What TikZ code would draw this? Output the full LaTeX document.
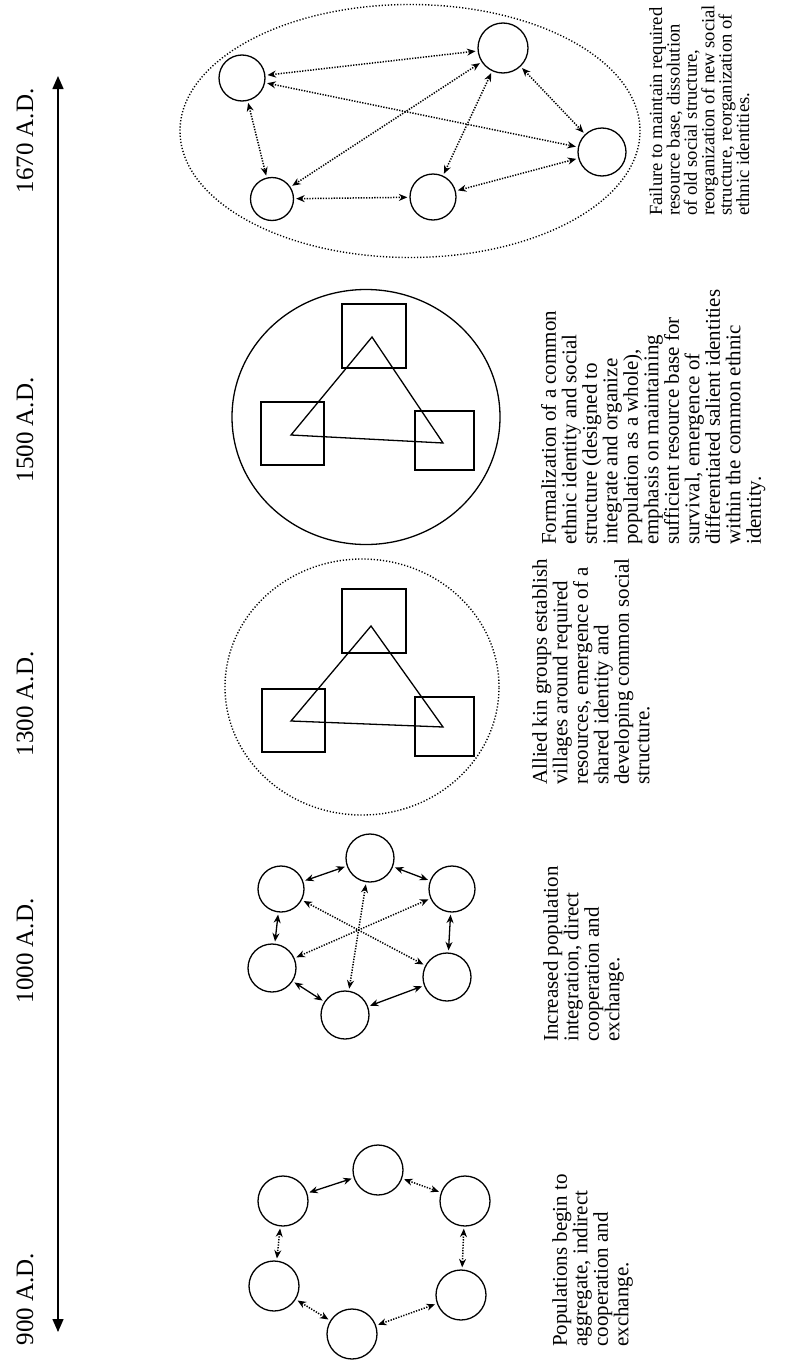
\documentclass[tikz,border=0pt]{standalone}
\usepackage{fontspec}
\setmainfont{Liberation Serif}
\usetikzlibrary{arrows.meta,shapes.geometric}

\begin{document}
\begin{tikzpicture}[x=1pt,y=-1pt,
  village/.style={circle,draw,line width=1.3pt,minimum size=#1,inner sep=0pt},
  village/.default=48pt,
  kin/.style={rectangle,draw,line width=1.5pt,minimum width=#1,minimum height=#1,inner sep=0pt},
  kin/.default=62pt,
  bond/.style={line width=1.3pt,line join=miter},
  link/.style={{Stealth[length=8.5pt,width=7pt]}-{Stealth[length=8.5pt,width=7pt]},
               line width=1.3pt,shorten <=2pt,shorten >=2pt},
  loose/.style={link,line width=1.5pt,dash pattern=on 1.3pt off 1.4pt},
  hull/.style={ellipse,draw,inner sep=0pt},
  dothull/.style={hull,line width=1.4pt,dash pattern=on 1.2pt off 1.9pt},
  era/.style={rotate=90,inner sep=0pt,font={\fontsize{25}{28}\selectfont}},
  note/.style={rotate=90,anchor=north west,inner sep=0pt,align=left,
               font={\fontsize{21}{20.5}\selectfont}},
  smallnote/.style={note,font={\fontsize{18.6}{17.4}\selectfont}},
  timeline/.style={{Triangle[length=13pt,width=11pt]}-{Triangle[length=13pt,width=11pt]},line width=1.4pt}
]
\fill[white] (0,0) rectangle (791,1360);
\useasboundingbox (0,0) rectangle (791,1360);

% time axis
\coordinate (tbot) at (58,1332);
\coordinate (ttop) at (58,76);
\draw[timeline] (tbot) -- (ttop);
\node[era] (y1670) at (25,141) {1670 A.D.};
\node[era] (y1500) at (25,430) {1500 A.D.};
\node[era] (y1300) at (25,704) {1300 A.D.};
\node[era] (y1000) at (25,951) {1000 A.D.};
\node[era] (y900)  at (25,1299) {900 A.D.};

% 900 A.D.: loose ring of populations
\node[village=50pt] (a1) at (378,1170) {};
\node[village=50pt] (a2) at (283,1201) {};
\node[village=50pt] (a3) at (465,1201) {};
\node[village=50pt] (a4) at (274,1286) {};
\node[village=50pt] (a5) at (461,1295) {};
\node[village=50pt] (a6) at (352,1334) {};
\draw[link]  (a1) -- (a2);
\draw[loose] (a1) -- (a3);
\draw[loose] (a2) -- (a4);
\draw[loose] (a3) -- (a5);
\draw[loose] (a4) -- (a6);
\draw[loose] (a6) -- (a5);

% 1000 A.D.: integrated ring
\node[village=48pt] (b1) at (370,858) {};
\node[village=46pt] (b2) at (281,889) {};
\node[village=46pt] (b3) at (452,889) {};
\node[village=48pt] (b4) at (272,968) {};
\node[village=48pt] (b5) at (447,977) {};
\node[village=48pt] (b6) at (345,1015) {};
\draw[link] (b1) -- (b2);
\draw[link] (b1) -- (b3);
\draw[link] (b2) -- (b4);
\draw[link] (b3) -- (b5);
\draw[link] (b4) -- (b6);
\draw[link] (b6) -- (b5);
\draw[loose] (b2) -- (b5);
\draw[loose] (b3) -- (b4);
\draw[loose] (b1) -- (b6);

% 1300 A.D.: allied kin groups
\node[dothull,minimum width=274pt,minimum height=256pt] (h1300) at (362,687) {};
\node[kin=64pt] (c1) at (374,621) {};
\node[kin=63pt] (c2) at (293.5,720.5) {};
\node[kin=59pt] (c3) at (444.5,726.5) {};
\coordinate (c1t) at (371,626);
\coordinate (c2t) at (291,721);
\coordinate (c3t) at (443,727);
\draw[bond] (c1t) -- (c2t) -- (c3t) -- cycle;

% 1500 A.D.: formal ethnic identity
\node[hull,line width=1.3pt,minimum width=268pt,minimum height=255pt] (h1500) at (366,417) {};
\node[kin=64pt] (d1) at (374,336) {};
\node[kin=63pt] (d2) at (292.5,433.5) {};
\node[kin=59pt] (d3) at (444.5,440.5) {};
\coordinate (d1t) at (372,337);
\coordinate (d2t) at (291,435);
\coordinate (d3t) at (443,443);
\draw[bond] (d1t) -- (d2t) -- (d3t) -- cycle;

% 1670 A.D.: dissolution and reorganization
\node[dothull,minimum width=460pt,minimum height=253pt] (h1670) at (410,131) {};
\node[village=46pt] (e1) at (242,78) {};
\node[village=50pt] (e2) at (503,48) {};
\node[village=48pt] (e3) at (602,152) {};
\node[village=46pt] (e4) at (433,197) {};
\node[village=43pt] (e5) at (272,199) {};
\draw[loose] (e1) -- (e2);
\draw[loose] (e1) -- (e3);
\draw[loose] (e1) -- (e5);
\draw[loose] (e2) -- (e5);
\draw[loose] (e2) -- (e4);
\draw[loose] (e2) -- (e3);
\draw[loose] (e5) -- (e4);
\draw[loose] (e4) -- (e3);

% stage descriptions
\node[note] (n900) at (552,1347) {Populations begin to\\aggregate, indirect\\cooperation and\\exchange.};
\node[note] (n1000) at (543,1042) {Increased population\\integration, direct\\cooperation and\\exchange.};
\node[note] (n1300) at (532,785) {Allied kin groups establish\\villages around required\\resources, emergence of a\\shared identity and\\developing common social\\structure.};
\node[note] (n1500) at (541,545) {Formalization of a common\\ethnic identity and social\\structure (designed to\\integrate and organize\\population as a whole),\\emphasis on maintaining\\sufficient resource base for\\survival, emergence of\\differentiated salient identities\\within the common ethnic\\identity.};
\node[smallnote] (n1670) at (649,216) {Failure to maintain required\\resource base, dissolution\\of old social structure,\\reorganization of new social\\structure, reorganization of\\ethnic identities.};
\end{tikzpicture}
\end{document}
